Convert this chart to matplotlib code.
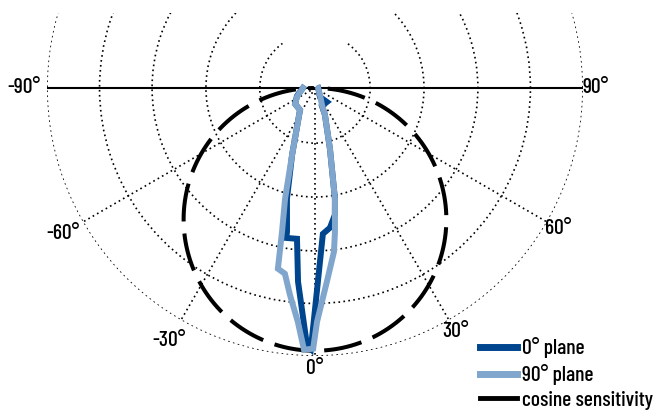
import numpy as np
import matplotlib
matplotlib.use("Agg")
import matplotlib.pyplot as plt
from matplotlib.lines import Line2D
from matplotlib.patches import Rectangle

plt.rcParams['font.family'] = ['Barlow Condensed', 'DejaVu Sans']
plt.rcParams['font.weight'] = 500

# angles in degrees (0 = normal incidence), relative response
plane0_theta = [-90, -66.0, -51.3, -34.3, -18.9, -14.2, -11.0, -10.9, -6.8, -5.0,
                -1.8, -0.9, 3.1, 6.1, 8.9, 10.2, 13.8, 20.3, 21.3, 40.6, 29.0, 90]
plane0_r = [0.046, 0.075, 0.097, 0.101, 0.269, 0.435, 0.558, 0.581, 0.578, 0.740,
            0.978, 0.993, 0.556, 0.535, 0.489, 0.429, 0.239, 0.109, 0.073, 0.070,
            0.039, 0.012]

plane90_theta = [-90, -63.4, -51.3, -34.3, -18.9, -15.1, -12.9, -11.6, -9.2, -6.9,
                 -4.2, -2.4, -0.4, 0.5, 3.5, 6.6, 7.9, 10.2, 13.8, 20.3,
                 22.4, 35.5, 90]
plane90_r = [0.046, 0.077, 0.097, 0.101, 0.269, 0.437, 0.562, 0.702, 0.716, 0.793,
             0.892, 0.997, 0.992, 0.890, 0.739, 0.628, 0.553, 0.429, 0.239, 0.109,
             0.070, 0.033, 0.012]

# ideal cosine response
cosine_theta = np.arange(-90, 91, 1)
cosine_r = np.cos(np.deg2rad(cosine_theta))

tick_angles = [-90, -60, -30, 0, 30, 60, 90]
tick_labels = ['-90°', '-60°', '-30°', '0°', '30°', '60°', '90°']
ring_radii = [0.21, 0.415, 0.62, 0.82, 1.02]
legend_labels = ['0° plane', '90° plane', 'cosine sensitivity']

dark_blue = '#00468f'
light_blue = '#80a6cd'

fig = plt.figure(figsize=(6.56, 4.18), dpi=100)
ax = fig.add_axes([0.0716, 0.0871, 0.8171, 1.2823], projection='polar')
ax.set_theta_zero_location('S')
ax.set_theta_direction(1)
ax.set_thetamin(-144)
ax.set_thetamax(144)
ax.set_rlim(0, 1.02)

ax.set_thetagrids(tick_angles, labels=[''] * len(tick_angles))
ax.set_rgrids(ring_radii, labels=[''] * len(ring_radii))
ax.tick_params(length=0)
ax.grid(True, color='black', linestyle=(0, (1.0, 2.0)), linewidth=1.2)
for gl, ang in zip(ax.xaxis.get_gridlines(), tick_angles):
    if abs(ang) == 90:
        gl.set_linestyle('-')
        gl.set_linewidth(1.5)
for gl in ax.yaxis.get_gridlines():
    gl.set_clip_on(False)
for sp in ax.spines.values():
    sp.set_color('none')
ax.patch.set_visible(False)

ax.plot(np.deg2rad(cosine_theta), cosine_r, color='black', linewidth=2.9,
        linestyle=(7.75, (9.5, 3.0)), zorder=3)
ax.plot(np.deg2rad(plane0_theta), plane0_r, color=dark_blue, linewidth=4.3,
        solid_joinstyle='miter', zorder=4)
ax.plot(np.deg2rad(plane90_theta), plane90_r, color=light_blue, linewidth=4.3,
        solid_joinstyle='miter', zorder=5)

for ang, lab in zip(tick_angles, tick_labels):
    r_lab = 1.068 + (0.04 if lab.startswith('-') else 0)
    ax.text(np.deg2rad(ang), r_lab, lab, ha='center', va='center', fontsize=15.5)

# grid arcs stop a little below the top edge
fig.add_artist(Rectangle((0, 1 - 13 / 418), 1, 13 / 418, transform=fig.transFigure,
                         facecolor='white', edgecolor='none', zorder=10))

handles = [Line2D([], [], color=dark_blue, linewidth=5),
           Line2D([], [], color=light_blue, linewidth=5),
           Line2D([], [], color='black', linewidth=3.5)]
fig.legend(handles, legend_labels, loc='upper left', bbox_to_anchor=(0.7317, 0.193),
           frameon=False, fontsize=15.5, handlelength=1.7, handletextpad=0.25,
           labelspacing=0.27, borderpad=0, borderaxespad=0)

fig.savefig('out.png', dpi=100)
